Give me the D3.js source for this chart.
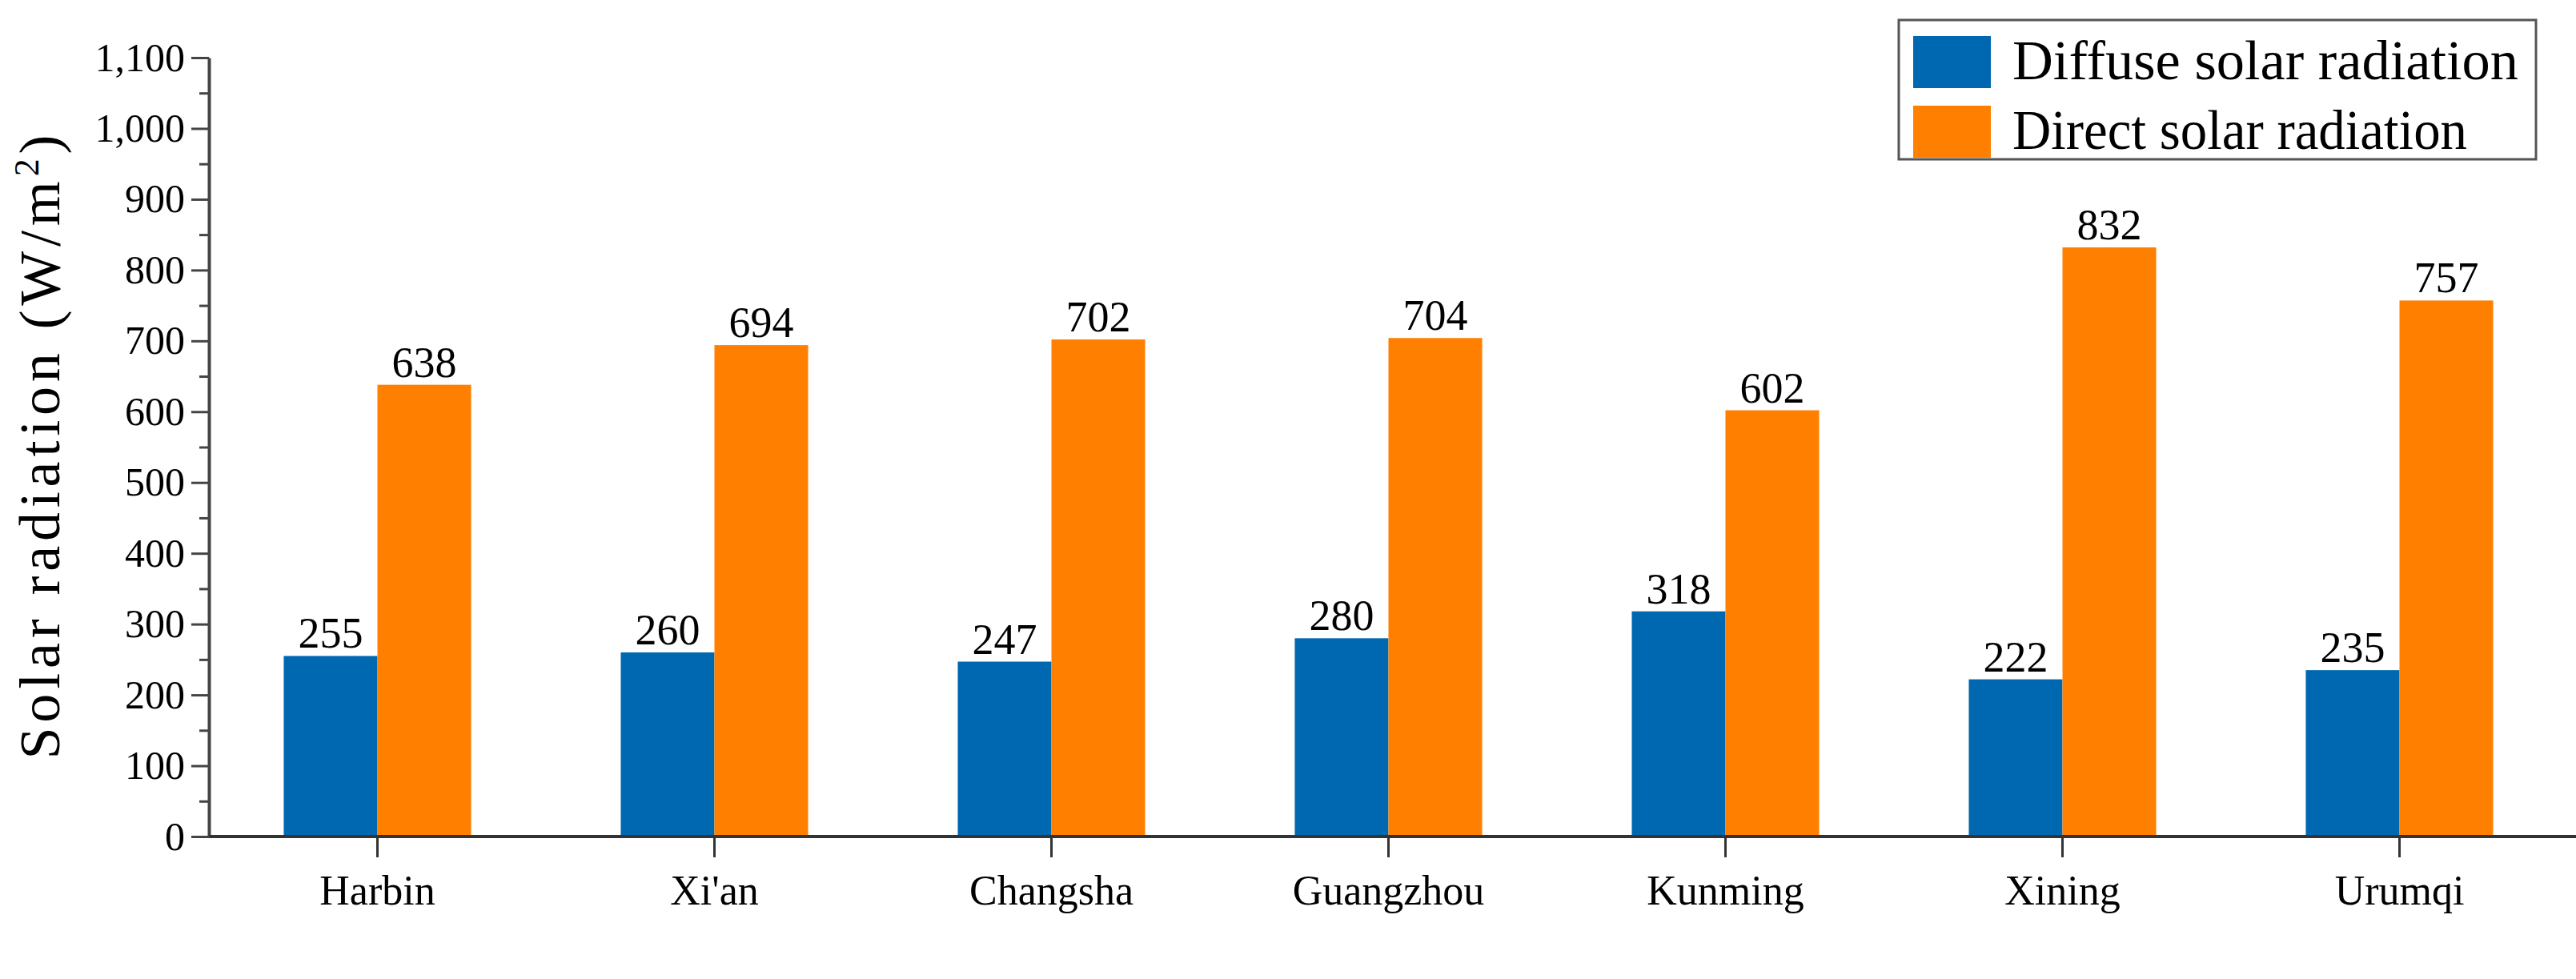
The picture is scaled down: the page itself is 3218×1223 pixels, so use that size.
<!DOCTYPE html>
<html>
<head>
<style>
  body { margin: 0; background: #fff; }
  text { font-family: "Liberation Serif", "Times New Roman", serif; fill: #000; }
</style>
</head>
<body>
<script src="https://cdn.jsdelivr.net/npm/d3@7"></script>
<script>
var cities = ["Harbin", "Xi'an", "Changsha", "Guangzhou", "Kunming", "Xining", "Urumqi"];
var diffuse = [255, 260, 247, 280, 318, 222, 235];
var direct = [638, 694, 702, 704, 602, 832, 757];
var seriesNames = ["Diffuse solar radiation", "Direct solar radiation"];
var colors = ["#0068b0", "#ff8000"];
var yTicks = d3.range(0, 1101, 100);

var W = 3218, H = 1223;
var mLeft = 261, mTop = 72, mBottom = 1045, mRight = 3208;

var svg = d3.select("body").append("svg")
    .attr("width", W).attr("height", H);

var x = d3.scaleBand().domain(cities).range([mLeft, mRight]).paddingInner(0.444).paddingOuter(0.222);
var y = d3.scaleLinear().domain([0, 1100]).range([mBottom, mTop]);

// bars
var bw = x.bandwidth() / 2;
cities.forEach(function(c, i) {
    var vals = [diffuse[i], direct[i]];
    vals.forEach(function(v, k) {
        var bx = x(c) + k * bw;
        svg.append("rect")
            .attr("x", bx).attr("y", y(v))
            .attr("width", bw).attr("height", y(0) - y(v))
            .style("fill", colors[k]);
        svg.append("text")
            .attr("x", bx + bw / 2).attr("y", y(v) - 10)
            .attr("text-anchor", "middle")
            .style("font-size", "54px")
            .text(v);
    });
});

// y axis
var minor = d3.range(50, 1100, 100);
svg.append("g").attr("transform", "translate(" + mLeft + ",0)")
    .call(d3.axisLeft(y).tickValues(minor).tickSize(12).tickFormat(""))
    .call(function(g) { g.select(".domain").remove(); g.selectAll("line").attr("stroke", "#444").attr("stroke-width", 3); });
svg.append("g").attr("transform", "translate(" + mLeft + ",0)")
    .call(d3.axisLeft(y).tickValues(yTicks).tickSize(22).tickSizeOuter(0).tickPadding(8))
    .call(function(g) {
        g.select(".domain").attr("stroke", "#444").attr("stroke-width", 4);
        g.selectAll("line").attr("stroke", "#444").attr("stroke-width", 3);
        g.selectAll("text").style("font-size", "50px");
    });

// x axis
svg.append("g").attr("transform", "translate(0," + mBottom + ")")
    .call(d3.axisBottom(x).tickSize(26).tickSizeOuter(0).tickPadding(22))
    .call(function(g) {
        g.select(".domain").attr("d", "M" + mLeft + ",0H" + W).attr("stroke", "#333").attr("stroke-width", 4);
        g.selectAll("line").attr("stroke", "#333").attr("stroke-width", 3);
        g.selectAll("text").style("font-size", "52px");
    });

// y title
var yt = svg.append("text")
    .attr("transform", "translate(74," + ((mTop + mBottom) / 2) + ") rotate(-90)")
    .attr("text-anchor", "middle")
    .attr("textLength", 780)
    .style("font-size", "72px");
yt.append("tspan").text("Solar radiation (W/m");
yt.append("tspan").attr("dy", -26).style("font-size", "44px").text("2");
yt.append("tspan").attr("dy", 26).text(")");

// legend
var lg = svg.append("g").attr("transform", "translate(2372,25)");
lg.append("rect").attr("width", 796).attr("height", 174)
    .style("fill", "#fff").style("stroke", "#555").style("stroke-width", 3);
seriesNames.forEach(function(n, i) {
    lg.append("rect").attr("x", 18).attr("y", 20 + i * 87)
        .attr("width", 97).attr("height", 65).style("fill", colors[i]);
    lg.append("text").attr("x", 142).attr("y", 74 + i * 87)
        .style("font-size", "70px")
        .attr("textLength", i === 0 ? 632 : 568)
        .attr("lengthAdjust", "spacingAndGlyphs")
        .text(n);
});
</script>
</body>
</html>
